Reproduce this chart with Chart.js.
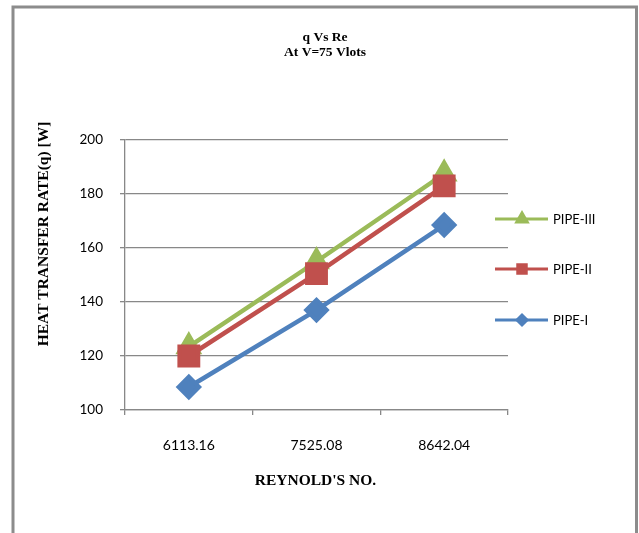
<!DOCTYPE html>
<html>
<head>
<meta charset="utf-8">
<script src="https://cdn.jsdelivr.net/npm/chart.js@4/dist/chart.umd.min.js"></script>
<style>
  body { margin: 0; background: #fff; }
  #wrap { width: 639px; height: 533px; }
</style>
</head>
<body>
<div id="wrap"><canvas id="qChart"></canvas></div>
<script>
const categories = ["6113.16", "7525.08", "8642.04"];
const pipe1 = [108.5, 137, 168.5];
const pipe2 = [120, 150.5, 183];
const pipe3 = [123.5, 155, 187.5];
const yTicks = [100, 120, 140, 160, 180, 200];

const titleLines = ["q Vs Re", "At V=75 Vlots"];
const xTitle = "REYNOLD'S NO.";
const yTitle = "HEAT TRANSFER RATE(q) [W]";

const titleFont = "bold 13.5px 'Liberation Serif', 'Times New Roman', serif";
const axisTitleFont = "bold 15.5px 'Liberation Serif', 'Times New Roman', serif";
const sans = "13px Lato, 'Open Sans', sans-serif";

// frame, titles and the side legend are drawn by hand, Excel style
const decor = {
  id: "decor",
  beforeDraw(chart) {
    const ctx = chart.ctx;
    ctx.save();
    ctx.fillStyle = "#fff";
    ctx.fillRect(0, 0, chart.width, chart.height);
    ctx.strokeStyle = "#8c8c8c";
    ctx.lineWidth = 3;
    ctx.strokeRect(13, 7, 623.5, 545);
    ctx.restore();
  },
  afterDraw(chart) {
    const ctx = chart.ctx;
    const area = chart.chartArea;
    ctx.save();
    ctx.fillStyle = "#000";
    ctx.font = titleFont;
    ctx.textAlign = "center";
    ctx.textBaseline = "middle";
    ctx.fillText(titleLines[0], 325, 38);
    ctx.fillText(titleLines[1], 325, 53);

    ctx.font = axisTitleFont;
    ctx.fillText(xTitle, (area.left + area.right) / 2 - 1, 481);
    ctx.save();
    ctx.translate(44, 234);
    ctx.rotate(-Math.PI / 2);
    ctx.fillText(yTitle, 0, 0);
    ctx.restore();

    // legend, last series on top
    const sets = chart.data.datasets.slice().reverse();
    const rows = [219, 269, 320];
    ctx.font = sans;
    ctx.textAlign = "left";
    sets.forEach((ds, i) => {
      const y = rows[i];
      ctx.strokeStyle = ds.borderColor;
      ctx.lineWidth = 3;
      ctx.beginPath();
      ctx.moveTo(495, y);
      ctx.lineTo(548, y);
      ctx.stroke();
      ctx.fillStyle = ds.borderColor;
      Chart.helpers.drawPoint(ctx, {
        pointStyle: ds.pointStyle,
        radius: ds.legendRadius,
        borderWidth: 1,
        rotation: 0
      }, 522, y);
      ctx.fillStyle = "#000";
      ctx.fillText(ds.label, 553, y + 1);
    });
    ctx.restore();
  }
};

const ctx = document.getElementById("qChart").getContext("2d");
const qChart = new Chart(ctx, {
  type: "line",
  data: {
    labels: categories,
    datasets: [
      {
        label: "PIPE-I",
        data: pipe1,
        borderColor: "#4F81BD",
        backgroundColor: "#4F81BD",
        pointStyle: "rectRot",
        pointRadius: 10,
        legendRadius: 5,
        borderWidth: 4.5,
        tension: 0
      },
      {
        label: "PIPE-II",
        data: pipe2,
        borderColor: "#C0504D",
        backgroundColor: "#C0504D",
        pointStyle: "rect",
        pointRadius: 13,
        legendRadius: 6,
        borderWidth: 4.5,
        tension: 0
      },
      {
        label: "PIPE-III",
        data: pipe3,
        borderColor: "#9BBB59",
        backgroundColor: "#9BBB59",
        pointStyle: "triangle",
        pointRadius: 11,
        legendRadius: 6,
        borderWidth: 4.5,
        tension: 0
      }
    ]
  },
  options: {
    responsive: true,
    maintainAspectRatio: false,
    animation: false,
    layout: { padding: { left: 0, top: 140, right: 131, bottom: 0 } },
    plugins: {
      legend: { display: false },
      title: { display: false },
      tooltip: { enabled: false }
    },
    scales: {
      x: {
        offset: true,
        afterFit: (s) => { s.height = 123; },
        grid: {
          offset: true,
          drawOnChartArea: false,
          drawTicks: true,
          tickLength: 5,
          color: "#888",
          lineWidth: 1.3
        },
        border: { display: true, color: "#888", width: 1.3 },
        ticks: { color: "#000", font: { family: "Lato", size: 14 }, padding: 22, maxRotation: 0 }
      },
      y: {
        min: 100,
        max: 200,
        afterFit: (s) => { s.width = 125; },
        afterBuildTicks: (s) => { s.ticks = yTicks.map((v) => ({ value: v })); },
        grid: { color: "#888", lineWidth: 1.3, tickLength: 5 },
        border: { display: true, color: "#888", width: 1.3 },
        ticks: { color: "#000", font: { family: "Lato", size: 13.5 }, padding: 17 }
      }
    }
  },
  plugins: [decor]
});
</script>
</body>
</html>
